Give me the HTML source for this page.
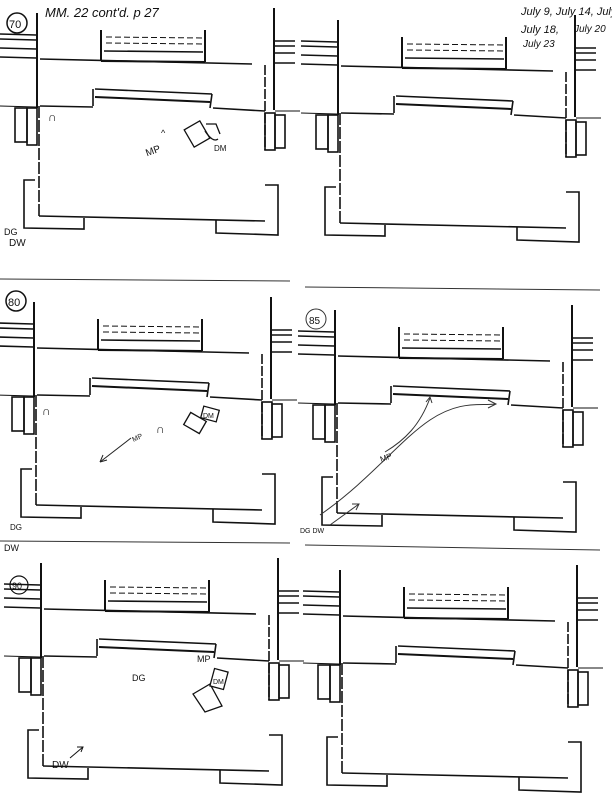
<!DOCTYPE html>
<html><head><meta charset="utf-8"><style>
html,body{margin:0;padding:0;background:#fff;}
svg{display:block;}
text{font-family:"Liberation Sans",sans-serif;fill:#111;}
</style></head><body>
<svg width="612" height="800" viewBox="0 0 612 800" xmlns="http://www.w3.org/2000/svg">
<defs>
<g id="room" fill="none" stroke="#111" stroke-width="1.6">
  <line x1="37" y1="13" x2="37" y2="108" stroke-width="2"/>
  <line x1="0" y1="34" x2="36" y2="35"/>
  <line x1="0" y1="39" x2="36" y2="40"/>
  <line x1="0" y1="48" x2="36" y2="49"/>
  <line x1="0" y1="57" x2="36" y2="58"/>
  <line x1="0" y1="106" x2="36" y2="107" stroke-width="1"/>
  <line x1="101" y1="30" x2="101" y2="61" stroke-width="2"/>
  <line x1="205" y1="30" x2="205" y2="62" stroke-width="2"/>
  <line x1="106" y1="37" x2="203" y2="38" stroke-dasharray="6,3" stroke-width="1"/>
  <line x1="106" y1="43" x2="203" y2="44" stroke-dasharray="6,3" stroke-width="1"/>
  <line x1="104" y1="51" x2="203" y2="52"/>
  <line x1="101" y1="61" x2="205" y2="62" stroke-width="2"/>
  <line x1="40" y1="59" x2="252" y2="64"/>
  <line x1="274" y1="8" x2="274" y2="110" stroke-width="2"/>
  <line x1="265" y1="65" x2="265" y2="150" stroke-dasharray="10,2"/>
  <line x1="275" y1="41" x2="295" y2="41"/>
  <line x1="275" y1="46" x2="295" y2="46"/>
  <line x1="275" y1="53" x2="295" y2="53"/>
  <line x1="275" y1="63" x2="295" y2="63"/>
  <line x1="275" y1="111" x2="300" y2="111" stroke-width="1"/>
  <line x1="40" y1="106" x2="93" y2="107"/>
  <line x1="93" y1="89" x2="93" y2="106"/>
  <line x1="95" y1="89" x2="212" y2="94"/>
  <line x1="95" y1="97" x2="210" y2="102" stroke-width="2"/>
  <line x1="212" y1="94" x2="210" y2="108"/>
  <line x1="213" y1="108" x2="265" y2="111"/>
  <line x1="39" y1="106" x2="39" y2="216" stroke-dasharray="12,2"/>
  <line x1="39" y1="216" x2="265" y2="221"/>
  <rect x="15" y="108" width="12" height="34"/>
  <rect x="27" y="108" width="10" height="37"/>
  <rect x="265" y="113" width="10" height="37"/>
  <rect x="275" y="115" width="10" height="33"/>
  <polyline points="35,180 24,180 24,228 84,229 84,218"/>
  <polyline points="216,220 216,233 278,235 278,185 265,185"/>
</g>
</defs>

<use href="#room" transform="translate(0,0)"/>
<use href="#room" transform="translate(301,7)"/>
<use href="#room" transform="translate(-3,289)"/>
<use href="#room" transform="translate(298,297)"/>
<use href="#room" transform="translate(4,550)"/>
<use href="#room" transform="translate(303,557)"/>

<g stroke="#333" stroke-width="1">
<line x1="0" y1="279" x2="290" y2="281"/>
<line x1="305" y1="287" x2="600" y2="290"/>
<line x1="0" y1="541" x2="290" y2="543"/>
<line x1="305" y1="545" x2="600" y2="550"/>
</g>

<text x="45" y="17" font-size="13" font-style="italic">MM. 22 cont'd. p 27</text>
<circle cx="17" cy="23" r="10" fill="none" stroke="#111" stroke-width="1.5"/>
<text x="9" y="28" font-size="11">70</text>
<text x="48" y="121" font-size="12">∩</text>
<text x="145" y="155" font-size="10" transform="rotate(-20 150 150)">MP</text>
<text x="161" y="136" font-size="9">^</text>
<rect x="188" y="124" width="18" height="20" fill="#fff" stroke="#111" stroke-width="1.3" transform="rotate(-30 197 134)"/>
<path d="M206 124 l10 0 l4 10 M205 131 q8 12 13 8" fill="none" stroke="#111" stroke-width="1.3"/>
<text x="214" y="151" font-size="8">DM</text>
<text x="4" y="235" font-size="9">DG</text>
<text x="9" y="246" font-size="10">DW</text>

<text x="521" y="15" font-size="11" font-style="italic">July 9, July 14, July</text>
<text x="521" y="33" font-size="11" font-style="italic" fill="#555">July 18,</text>
<text x="574" y="32" font-size="10" font-style="italic">July 20</text>
<text x="523" y="47" font-size="10" font-style="italic">July 23</text>

<circle cx="16" cy="301" r="10" fill="none" stroke="#111" stroke-width="1.5"/>
<text x="8" y="306" font-size="11">80</text>
<text x="42" y="415" font-size="12">∩</text>
<text x="156" y="433" font-size="12">∩</text>
<rect x="186" y="416" width="18" height="14" fill="#fff" stroke="#111" stroke-width="1.3" transform="rotate(30 195 423)"/>
<rect x="202" y="408" width="16" height="12" fill="#fff" stroke="#111" stroke-width="1.3" transform="rotate(15 210 414)"/>
<text x="203" y="418" font-size="7">DM</text>
<line x1="131" y1="438" x2="100" y2="462" stroke="#222" stroke-width="1"/>
<path d="M100 462 l3 -7 M100 462 l7 -2" stroke="#222" fill="none"/>
<text x="132" y="441" font-size="7" transform="rotate(-25 135 438)">MP</text>
<text x="10" y="530" font-size="8">DG</text>

<circle cx="316" cy="319" r="10" fill="none" stroke="#333" stroke-width="1"/>
<text x="309" y="324" font-size="10" fill="#333">85</text>
<path d="M320 515 C 370 480, 400 440, 430 420 S 480 406, 495 404" fill="none" stroke="#333" stroke-width="1"/>
<path d="M488 400 l8 4 l-8 4" fill="none" stroke="#333" stroke-width="1"/>
<path d="M385 452 C 405 440, 420 425, 430 398" fill="none" stroke="#333" stroke-width="1"/>
<path d="M426 402 l4 -5 l2 6" fill="none" stroke="#333" stroke-width="1"/>
<line x1="330" y1="525" x2="359" y2="504" stroke="#333" stroke-width="1"/>
<path d="M352 504 l7 0 l-3 6" fill="none" stroke="#333" stroke-width="1"/>
<text x="380" y="461" font-size="8" fill="#333" transform="rotate(-20 384 458)">MP</text>
<text x="300" y="533" font-size="7" fill="#333">DG DW</text>

<text x="4" y="551" font-size="9">DW</text>
<circle cx="19" cy="585" r="9" fill="none" stroke="#111" stroke-width="1.2"/>
<text x="12" y="589" font-size="9">90</text>
<text x="132" y="681" font-size="9">DG</text>
<text x="197" y="662" font-size="9">MP</text>
<path d="M193 694 l17 -10 l12 22 l-17 6 z" fill="#fff" stroke="#111" stroke-width="1.3"/>
<rect x="212" y="670" width="14" height="18" fill="#fff" stroke="#111" stroke-width="1.3" transform="rotate(15 219 679)"/>
<text x="213" y="684" font-size="7">DM</text>
<text x="52" y="768" font-size="10">DW</text>
<line x1="70" y1="758" x2="83" y2="747" stroke="#111" stroke-width="1"/>
<path d="M77 747 l6 0 l-2 5" fill="none" stroke="#111" stroke-width="1"/>
</svg>
</body></html>
